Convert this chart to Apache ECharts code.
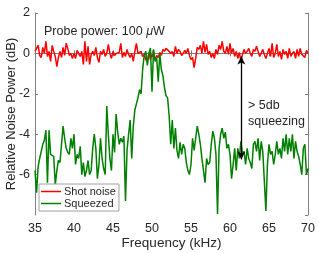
<!DOCTYPE html>
<html>
<head>
<meta charset="utf-8">
<script src="https://cdn.jsdelivr.net/npm/echarts@6/dist/echarts.min.js"></script>
<style>html,body{margin:0;padding:0;background:#fff}#c{width:319px;height:253px}</style>
</head>
<body>
<div id="c"></div>
<script>
// Frequency sampling (kHz)
const fStart = 35, fStep = 0.2;
const xTicks = [35, 40, 45, 50, 55, 60, 65, 70];
const yTicks = [-8, -6, -4, -2, 0, 2];
const seriesNames = ['Shot noise', 'Squeezed'];

const shotNoise = [
 0.1, 0.05, 0.4, -0.1, -0.2, 0.3, 0.0, 0.6, -0.15, 0.1,
 -0.4, 0.4, 0.1, -0.15, -0.65, -0.2, 0.1, -0.2, 0.3, -0.1,
 0.5, 0.25, -0.1, 0.0, -0.25, 0.0, -0.25, 0.15, 0.0, -0.15,
 0.1, -0.55, 0.6, -0.4, 0.35, -0.55, -0.05, 0.1, -0.1, 0.3,
 -0.2, -0.45, 0.1, -0.05, 0.2, -0.15, 0.0, 0.45, 0.0, -0.25,
 0.1, -0.1, 0.0, -0.05, 0.05, 0.5, -0.2, 0.05, -0.15, 0.2,
 -0.05, -0.2, 0.0, -0.4, 0.1, 0.5, 0.0, 0.05, 0.1, -0.15,
 -0.05, -0.3, -0.4, 0.0, -0.3, -0.05, -0.2, -0.3, -0.1, -0.2,
 0.05, -0.1, 0.2, 0.1, 0.25, 0.3, 0.1, 0.0, 0.1, -0.15,
 0.35, 0.0, 0.2, 0.1, -0.1, 0.0, 0.15, 0.0, 0.25, -0.1,
 -0.3, -0.2, -0.7, -0.25, 0.3, 0.2, 0.4, 0.0, 0.6, 0.05,
 0.45, -0.05, 0.1, -0.2, 0.0, -0.25, 0.2, -0.05, 0.4, 0.2,
 0.6, 0.1, 0.0, 0.35, -0.05, 0.5, 0.0, 0.25, -0.15, 0.1,
 -0.25, 0.05, -0.4, -0.05, 0.2, 0.0, 0.1, 0.25, 0.0, -0.15,
 0.2, 0.1, 0.35, 0.1, -0.15, 0.0, 0.2, -0.05, -0.25, 0.0,
 0.25, -0.15, 0.5, -0.2, 0.0, 0.45, -0.15, 0.1, -0.3, 0.2,
 -0.05, 0.1, -0.25, 0.25, -0.15, 0.0, 0.1, -0.25, 0.2, -0.15,
 0.25, -0.05, 0.0, -0.2, 0.15, 0.0
];

const squeezed = [
 -5.8, -6.9, -5.6, -5.2, -5.2, -4.5, -4.3, -3.8, -6.4, -3.8,
 -5.0, -5.0, -5.1, -6.5, -5.8, -5.3, -5.4, -4.5, -3.6, -4.2,
 -4.7, -4.9, -5.0, -4.2, -4.7, -4.0, -5.5, -5.0, -5.2, -4.6,
 -6.0, -5.4, -6.1, -5.8, -5.3, -6.0, -5.8, -4.7, -4.0, -4.7,
 -6.2, -5.5, -4.2, -5.2, -5.7, -6.0, -2.6, -4.0, -5.2, -5.8,
 -4.0, -4.9, -3.0, -3.9, -4.5, -4.2, -4.4, -4.1, -7.3, -4.8,
 -4.0, -3.3, -5.2, -3.6, -2.8, -2.8, -2.2, -1.8, -2.0, -0.8,
 -0.1, 0.1, -0.6, 0.0, 0.27, -1.9, 0.2, -0.4, -0.2, -1.4,
 0.0, -0.8, -1.1, -1.7, -2.1, -2.2, -3.1, -4.5, -3.3, -4.7,
 -3.7, -4.8, -5.2, -4.4, -5.0, -4.5, -4.7, -5.4, -5.8, -6.0,
 -5.5, -4.2, -4.8, -4.2, -3.6, -4.0, -4.5, -5.2, -5.8, -6.4,
 -5.2, -5.5, -5.4, -4.5, -3.85, -4.2, -5.0, -7.95, -4.7, -4.0,
 -3.7, -4.2, -3.9, -4.7, -4.5, -5.0, -6.2, -5.5, -4.7, -5.8,
 -4.7, -5.2, -4.35, -5.0, -4.85, -5.5, -4.7, -5.2, -5.4, -5.7,
 -4.5, -4.35, -4.85, -4.2, -5.3, -4.35, -4.85, -6.3, -7.8, -5.5,
 -4.5, -5.0, -4.85, -5.5, -5.0, -4.35, -5.0, -4.7, -5.2, -4.2,
 -4.85, -4.0, -5.0, -4.2, -4.85, -4.0, -5.2, -4.35, -4.85, -5.1,
 -5.5, -6.0, -4.7, -4.5, -6.0, -5.7
];

// annotation: squeezing arrow (kHz, dB)
const arrowFreq = 61.45;
const arrowTop = -0.15;
const arrowBottom = -5.25;

const freq = shotNoise.map((_, i) => +(fStart + i * fStep).toFixed(2));
const pairs = arr => arr.map((v, i) => [freq[i], v]);

const FONT = 'Liberation Sans, Arial, Helvetica, sans-serif';
const TXT = '#262626';
const AX = '#808080';
const LINE_ICON = 'path://M0,0 L20,0 L20,1.5 L0,1.5 Z';

const chart = echarts.init(document.getElementById('c'), null, {renderer: 'canvas'});
const axisCommon = {
  axisLine: {show: true, lineStyle: {color: AX, width: 1}},
  axisTick: {show: true, inside: true, length: 3, lineStyle: {color: AX}},
  splitLine: {show: false}
};
chart.setOption({
  animation: false,
  backgroundColor: '#fff',
  grid: {left: 35, right: 11, top: 13, bottom: 38, containLabel: false, outerBoundsMode: 'none'},
  xAxis: [
    Object.assign({
      type: 'value', min: xTicks[0], max: xTicks[xTicks.length - 1], interval: 5,
      name: 'Frequency (kHz)', nameLocation: 'middle', nameGap: 21, nameMoveOverlap: false,
      nameTextStyle: {fontFamily: FONT, fontSize: 13.5, color: TXT},
      axisLabel: {fontFamily: FONT, fontSize: 12.5, color: TXT, margin: 7}
    }, axisCommon),
    Object.assign({
      type: 'value', position: 'top', min: xTicks[0], max: xTicks[xTicks.length - 1], interval: 5,
      axisLabel: {show: false}
    }, axisCommon)
  ],
  yAxis: [
    Object.assign({
      type: 'value', min: yTicks[0], max: yTicks[yTicks.length - 1], interval: 2,
      name: 'Relative Noise Power (dB)', nameLocation: 'middle', nameGap: 17, nameMoveOverlap: false,
      nameTextStyle: {fontFamily: FONT, fontSize: 13, color: TXT},
      axisLabel: {fontFamily: FONT, fontSize: 12.5, color: TXT, margin: 5, showMinLabel: false}
    }, axisCommon),
    Object.assign({
      type: 'value', position: 'right', min: yTicks[0], max: yTicks[yTicks.length - 1], interval: 2,
      axisLabel: {show: false}
    }, axisCommon)
  ],
  legend: {
    orient: 'vertical', left: 39, top: 184,
    padding: [2, 3, 2, 2], itemGap: 1, itemWidth: 20, itemHeight: 11,
    backgroundColor: '#fff', borderColor: '#a0a0a0', borderWidth: 1,
    textStyle: {fontFamily: FONT, fontSize: 11, color: TXT, padding: [0, 0, 0, -2]},
    data: [
      {name: seriesNames[0], icon: LINE_ICON},
      {name: seriesNames[1], icon: LINE_ICON}
    ]
  },
  series: [
    {
      name: seriesNames[0], type: 'line', data: pairs(shotNoise),
      symbol: 'none', lineStyle: {color: '#ff0000', width: 1.5}, itemStyle: {color: '#ff0000'},
      z: 2
    },
    {
      name: seriesNames[1], type: 'line', data: pairs(squeezed),
      symbol: 'none', lineStyle: {color: '#008000', width: 1.5}, itemStyle: {color: '#008000'},
      z: 3,
      markLine: {
        silent: true, symbol: ['arrow', 'arrow'], symbolSize: [6, 8], z: 10,
        label: {show: false},
        lineStyle: {color: '#000', width: 1.3, type: 'solid'},
        data: [[{coord: [arrowFreq, arrowTop]}, {coord: [arrowFreq, arrowBottom]}]]
      }
    }
  ],
  graphic: [
    {
      type: 'text', left: 44, top: 25, z: 20,
      style: {
        text: '{a|Probe power: 100 }{b|μ}{a|W}',
        rich: {
          a: {fontFamily: FONT, fontSize: 12.5, fill: TXT},
          b: {fontFamily: FONT, fontSize: 12.5, fontStyle: 'italic', fill: TXT}
        }
      }
    },
    {
      type: 'text', left: 248, top: 98, z: 20,
      style: {text: '> 5db\nsqueezing', fontFamily: FONT, fontSize: 12.5, lineHeight: 16, fill: TXT}
    }
  ]
});
</script>
</body>
</html>
